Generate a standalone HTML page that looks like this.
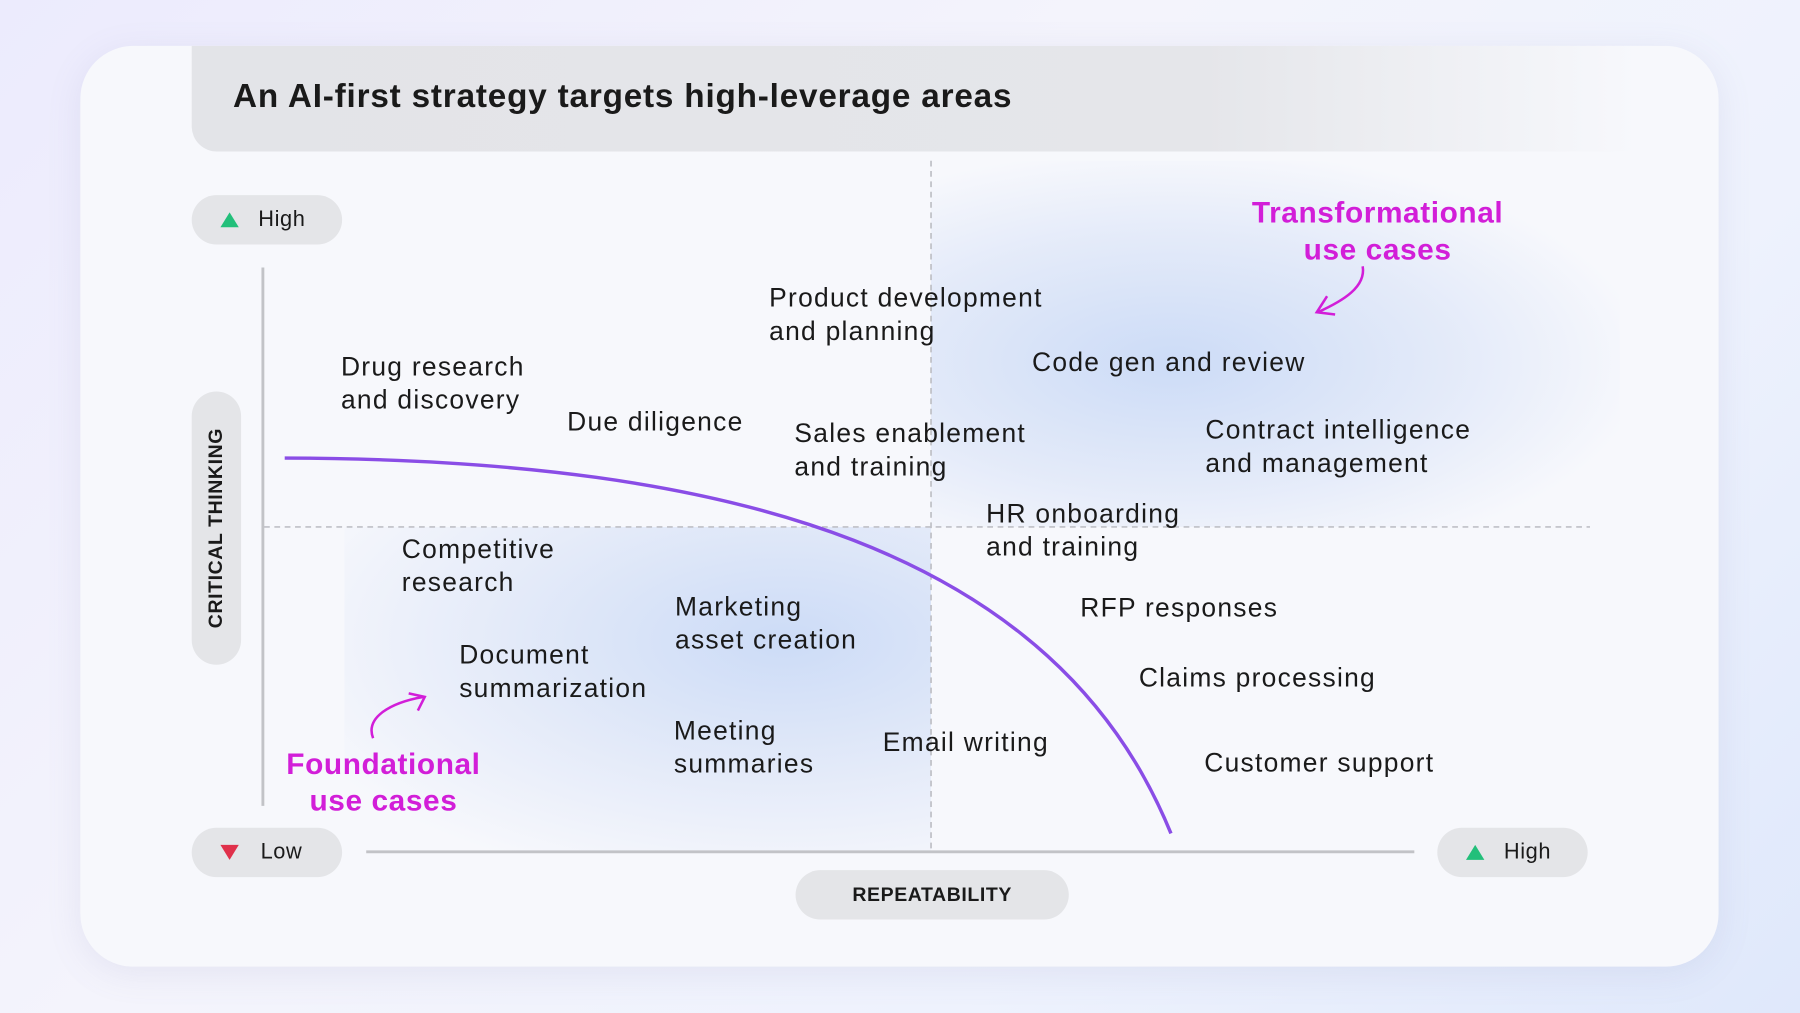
<!DOCTYPE html>
<html><head><meta charset="utf-8"><style>
html,body{margin:0;padding:0;width:1800px;height:1013px;overflow:hidden;background:linear-gradient(135deg,#ecebfd 0%,#f4f4fc 40%,#eef2fd 70%,#dfe8fb 100%);}
#s{position:absolute;left:0;top:0;width:1568px;height:882px;transform:scale(1.148);transform-origin:0 0;font-family:"Liberation Sans",sans-serif;color:#1a1a1a;}
.card{position:absolute;left:70px;top:40px;width:1427px;height:802px;border-radius:46px;background:#f7f8fc;box-shadow:0 6px 30px rgba(120,120,170,.12);overflow:hidden;}
.hdr{position:absolute;left:167px;top:40px;width:1260px;height:92px;border-radius:0 0 0 22px;background:linear-gradient(90deg,#e3e4e8 0%,#e5e6ea 70%,rgba(240,241,246,0) 100%);}
.t{position:absolute;font-size:23px;line-height:28.5px;white-space:nowrap;letter-spacing:1.1px;}
.pill{position:absolute;background:#e4e5e8;border-radius:22px;font-size:19px;display:flex;align-items:center;letter-spacing:0.5px;}
.m{position:absolute;color:#d21ed8;font-weight:bold;font-size:26px;line-height:32px;text-align:center;width:300px;letter-spacing:0.5px;}
</style></head><body><div id="s">
<div class="card"></div>
<div style="position:absolute;left:811px;top:140px;width:600px;height:319px;background:radial-gradient(ellipse at 35% 55%,rgba(190,210,245,.75) 0%,rgba(200,215,245,.4) 45%,rgba(247,248,252,0) 75%);"></div>
<div style="position:absolute;left:300px;top:459px;width:511px;height:283px;background:radial-gradient(ellipse at 75% 35%,rgba(190,210,245,.75) 0%,rgba(205,218,245,.4) 50%,rgba(247,248,252,0) 85%);"></div>
<div class="hdr"></div>
<div style="position:absolute;left:203px;top:68px;font-size:29px;font-weight:bold;letter-spacing:0.7px;">An AI-first strategy targets high-leverage areas</div>
<svg style="position:absolute;left:0;top:0" width="1568" height="882">
<line x1="230" y1="459" x2="1385" y2="459" stroke="#bfc0c6" stroke-width="1.5" stroke-dasharray="5,4"/>
<line x1="811" y1="140" x2="811" y2="742" stroke="#bfc0c6" stroke-width="1.5" stroke-dasharray="5,4"/>
<line x1="229" y1="233" x2="229" y2="702" stroke="#c2c3c7" stroke-width="2.5"/>
<line x1="319" y1="742" x2="1232" y2="742" stroke="#c2c3c7" stroke-width="2.5"/>
<path d="M248,399 C640,400 920,480 1020,726" fill="none" stroke="#8a4de6" stroke-width="3"/>
<path d="M1187,232 C1190,250 1170,262 1148,272" fill="none" stroke="#d21ed8" stroke-width="2.2"/>
<path d="M1156,258 L1147,272 L1163,274" fill="none" stroke="#d21ed8" stroke-width="2.2"/>
<path d="M325,643 C318,625 340,612 369,607" fill="none" stroke="#d21ed8" stroke-width="2.2"/>
<path d="M356,604 L370,607 L364,619" fill="none" stroke="#d21ed8" stroke-width="2.2"/>
</svg>
<div class="pill" style="left:167px;top:170px;width:131px;height:43px;"><span style="display:inline-block;margin-left:25px;width:0;height:0;border-left:8px solid transparent;border-right:8px solid transparent;border-bottom:13px solid #22bf7a;"></span><span style="margin-left:17px">High</span></div>
<div class="pill" style="left:167px;top:721px;width:131px;height:43px;"><span style="display:inline-block;margin-left:25px;width:0;height:0;border-left:8px solid transparent;border-right:8px solid transparent;border-top:13px solid #e0314b;"></span><span style="margin-left:19px">Low</span></div>
<div class="pill" style="left:1252px;top:721px;width:131px;height:43px;"><span style="display:inline-block;margin-left:25px;width:0;height:0;border-left:8px solid transparent;border-right:8px solid transparent;border-bottom:13px solid #22bf7a;"></span><span style="margin-left:17px">High</span></div>
<div class="pill" style="left:693px;top:758px;width:238px;height:43px;justify-content:center;font-size:17px;font-weight:bold;">REPEATABILITY</div>
<div class="pill" style="left:167px;top:341px;width:43px;height:238px;justify-content:center;"><span style="transform:rotate(-90deg);font-size:17px;font-weight:bold;white-space:nowrap;">CRITICAL THINKING</span></div>
<div class="m" style="left:1050px;top:169px;">Transformational<br>use cases</div>
<div class="m" style="left:184px;top:649px;">Foundational<br>use cases</div>
<div class="t" style="left:670px;top:245px;">Product development<br>and planning</div>
<div class="t" style="left:297px;top:305px;">Drug research<br>and discovery</div>
<div class="t" style="left:494px;top:353px;">Due diligence</div>
<div class="t" style="left:899px;top:301px;">Code gen and review</div>
<div class="t" style="left:692px;top:363px;">Sales enablement<br>and training</div>
<div class="t" style="left:1050px;top:360px;">Contract intelligence<br>and management</div>
<div class="t" style="left:859px;top:433px;">HR onboarding<br>and training</div>
<div class="t" style="left:350px;top:464px;">Competitive<br>research</div>
<div class="t" style="left:588px;top:514px;">Marketing<br>asset creation</div>
<div class="t" style="left:941px;top:515px;">RFP responses</div>
<div class="t" style="left:400px;top:556px;">Document<br>summarization</div>
<div class="t" style="left:992px;top:576px;">Claims processing</div>
<div class="t" style="left:587px;top:622px;">Meeting<br>summaries</div>
<div class="t" style="left:769px;top:632px;">Email writing</div>
<div class="t" style="left:1049px;top:650px;">Customer support</div>
</div></body></html>
